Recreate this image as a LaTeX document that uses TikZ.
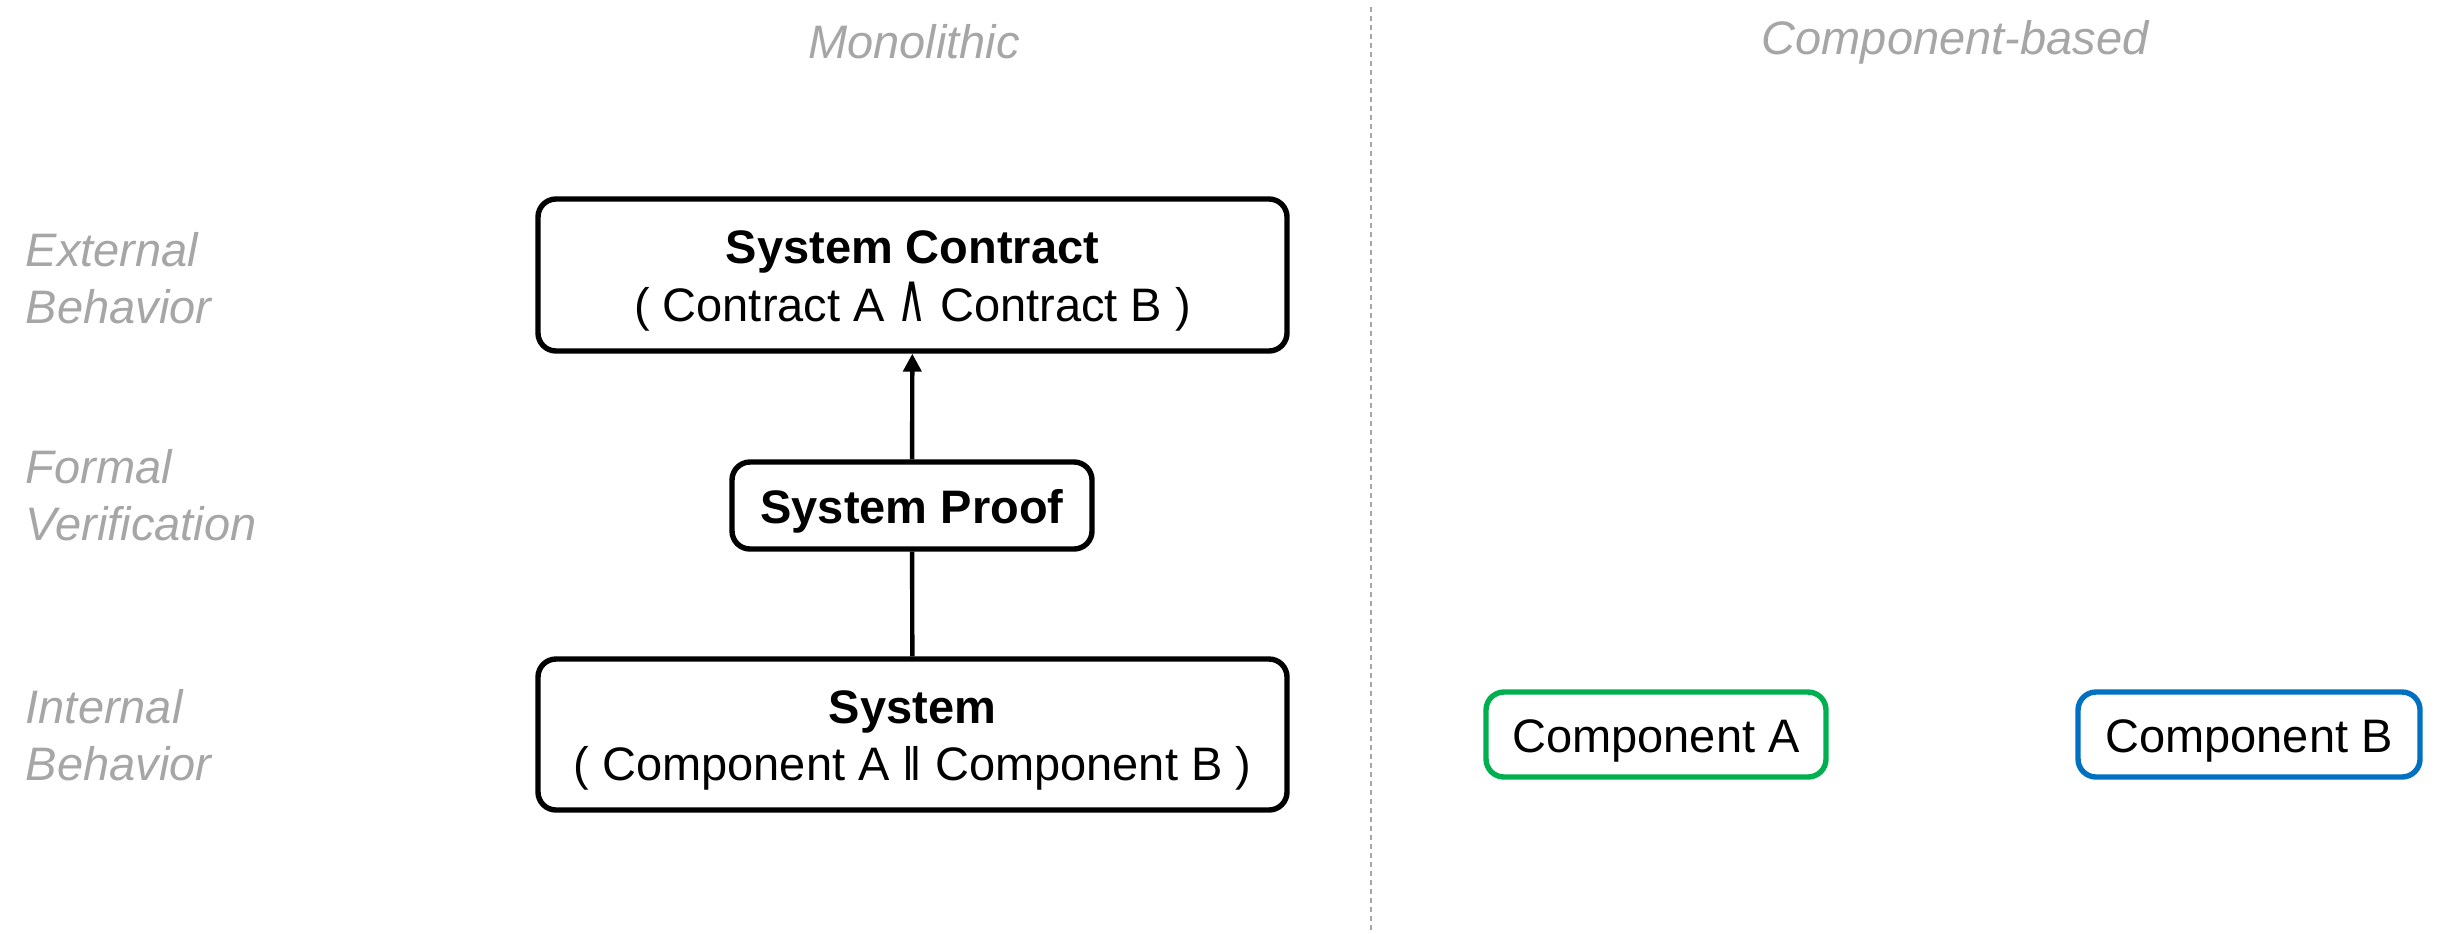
\documentclass[tikz,border=0pt]{standalone}
\usepackage{fontspec}
\usepackage{graphicx}
\setmainfont{Liberation Sans}
\newfontfamily\opfont{DejaVu Sans}
\newcommand{\logand}{\scalebox{0.85}[1.45]{\opfont\fontsize{11.75}{14.4}\selectfont ∧}}
\usetikzlibrary{arrows.meta}
\definecolor{labelgray}{HTML}{A6A6A6}
\definecolor{compgreen}{HTML}{00B050}
\definecolor{compblue}{HTML}{0070C0}
\begin{document}
\begin{tikzpicture}[x=0.25pt,y=-0.25pt,
  every node/.style={font=\fontsize{11.75}{14.4}\selectfont, inner sep=0pt},
  boxtext/.style={label={[align=center, yshift=-1.5pt, font=\fontsize{11.75}{14.4}\selectfont]center:#1}},
  box/.style={draw=black, line width=1.35pt, rounded corners=4.5pt},
  comp/.style={draw=#1, line width=1.35pt, rounded corners=4.5pt},
  caption/.style={text=labelgray, font=\fontsize{11.75}{14.4}\selectfont\itshape},
  level/.style={caption, anchor=west, align=left},
  link/.style={line width=1.1pt}]
  \useasboundingbox (0,0) rectangle (2437,933);

  % column captions and divider
  \node[caption] (mono) at (914,42) {Monolithic};
  \node[caption] (cbased) at (1955,42) {Component-based};
  \coordinate (divtop) at (1371,7);
  \coordinate (divbot) at (1371,933);
  \draw[labelgray, line width=0.5pt, dash pattern=on 1.25pt off 1pt] (divtop) -- (divbot);

  % row captions
  \node[level] (ext) at (25,278) {External\\Behavior};
  \node[level] (ver) at (25,495) {Formal\\Verification};
  \node[level] (int) at (25,735) {Internal\\Behavior};

  % monolithic column
  \node[box, minimum width=187.25pt, minimum height=38pt,
        boxtext={\textbf{System Contract}\\( Contract A \logand{} Contract B )}]
        (contract) at (912.5,275) {};
  \node[box, minimum width=90pt, minimum height=21.75pt,
        boxtext={\textbf{System Proof}}] (proof) at (912,505.5) {};
  \node[box, minimum width=187.25pt, minimum height=37.75pt,
        boxtext={\textbf{System}\\( Component A ‖ Component B )}] (system) at (912.5,734.5) {};

  \draw[link] (system) -- (proof);
  \draw[link, -{Triangle[length=4.5pt,width=4.5pt]}] (proof) -- (contract);

  % component-based column
  \node[comp=compgreen, minimum width=85pt, minimum height=21.25pt,
        boxtext={Component A}] (compA) at (1656,734.5) {};
  \node[comp=compblue, minimum width=85.5pt, minimum height=21.25pt,
        boxtext={Component B}] (compB) at (2249,734.5) {};
\end{tikzpicture}
\end{document}
